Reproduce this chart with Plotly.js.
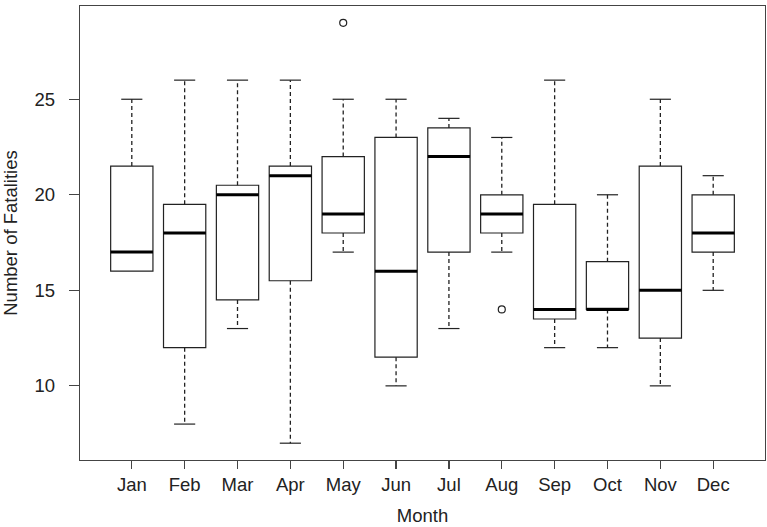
<!DOCTYPE html>
<html>
<head>
<meta charset="utf-8">
<script src="https://cdn.plot.ly/plotly-3.0.1.min.js"></script>
<style>
  html, body { margin: 0; padding: 0; background: #fff; }
  #chart { width: 767px; height: 527px; }
</style>
</head>
<body>
<div id="chart"></div>
<script>
// Monthly fatality box stats
const months = ["Jan", "Feb", "Mar", "Apr", "May", "Jun", "Jul", "Aug", "Sep", "Oct", "Nov", "Dec"];
const lowerWhisker = [16, 8, 13, 7, 17, 10, 13, 17, 12, 12, 10, 15];
const q1 = [16, 12, 14.5, 15.5, 18, 11.5, 17, 18, 13.5, 14, 12.5, 17];
const median = [17, 18, 20, 21, 19, 16, 22, 19, 14, 14, 15, 18];
const q3 = [21.5, 19.5, 20.5, 21.5, 22, 23, 23.5, 20, 19.5, 16.5, 21.5, 20];
const upperWhisker = [25, 26, 26, 26, 25, 25, 24, 23, 26, 20, 25, 21];
const outlierMonth = ["May", "Aug"];
const outlierValue = [29, 14];

const INK = "#222";
const FONT = "Liberation Sans, Arial, Helvetica, sans-serif";
const BOX_HALF = 0.4;
const CAP_HALF = 0.2;

const pos = months.map((m, i) => i + 1);

// segment helper: builds one scatter path, null-separated
function segments(build) {
  const x = [];
  const y = [];
  pos.forEach((p, i) => {
    const s = build(p, i);
    if (!s) return;
    x.push(s[0][0], s[1][0], null);
    y.push(s[0][1], s[1][1], null);
  });
  return { x, y };
}

const whiskers = segments((p, i) => [[p, q3[i]], [p, upperWhisker[i]]]);
const whiskersLow = segments((p, i) =>
  lowerWhisker[i] < q1[i] ? [[p, q1[i]], [p, lowerWhisker[i]]] : null);
const capsUp = segments((p, i) => [[p - CAP_HALF, upperWhisker[i]], [p + CAP_HALF, upperWhisker[i]]]);
const capsLow = segments((p, i) =>
  lowerWhisker[i] < q1[i] ? [[p - CAP_HALF, lowerWhisker[i]], [p + CAP_HALF, lowerWhisker[i]]] : null);
const medians = segments((p, i) => [[p - BOX_HALF, median[i]], [p + BOX_HALF, median[i]]]);

const traces = [
  {
    type: "box",
    x: pos,
    q1: q1,
    median: median,
    q3: q3,
    lowerfence: q1,
    upperfence: q3,
    width: BOX_HALF * 2,
    whiskerwidth: 0,
    fillcolor: "rgba(255,255,255,0)",
    line: { color: INK, width: 1.2 },
    hoverinfo: "skip",
    showlegend: false,
  },
  {
    type: "scatter", mode: "lines",
    x: whiskers.x.concat(whiskersLow.x), y: whiskers.y.concat(whiskersLow.y),
    line: { color: INK, width: 1.3, dash: "4px,3px" },
    hoverinfo: "skip", showlegend: false,
  },
  {
    type: "scatter", mode: "lines",
    x: capsUp.x.concat(capsLow.x), y: capsUp.y.concat(capsLow.y),
    line: { color: INK, width: 1.2 },
    hoverinfo: "skip", showlegend: false,
  },
  {
    type: "scatter", mode: "lines",
    x: medians.x, y: medians.y,
    line: { color: "#000", width: 3 },
    hoverinfo: "skip", showlegend: false,
  },
  {
    type: "scatter", mode: "markers",
    x: outlierMonth.map((m) => months.indexOf(m) + 1), y: outlierValue,
    marker: { symbol: "circle-open", size: 7, color: INK, line: { width: 1.2 } },
    hoverinfo: "skip", showlegend: false,
  },
];

const axisCommon = {
  showgrid: false,
  zeroline: false,
  showline: true,
  mirror: true,
  linecolor: "#444",
  linewidth: 1.2,
  ticks: "outside",
  tickcolor: "#444",
  tickwidth: 1.2,
  tickfont: { family: FONT, size: 18.5, color: INK },
  fixedrange: true,
};

const layout = {
  width: 767,
  height: 527,
  margin: { l: 80, r: 2, t: 6, b: 67 },
  paper_bgcolor: "#fff",
  plot_bgcolor: "#fff",
  font: { family: FONT, size: 18.5, color: INK },
  xaxis: Object.assign({}, axisCommon, {
    range: [0.02, 12.98],
    tickvals: pos,
    ticktext: months,
    ticklen: 8,
    title: { text: "Month", font: { family: FONT, size: 18.5, color: INK }, standoff: 14 },
  }),
  yaxis: Object.assign({}, axisCommon, {
    range: [6.12, 29.88],
    tickvals: [10, 15, 20, 25],
    ticklen: 10,
    ticklabelstandoff: 10,
    title: { text: "Number of Fatalities", font: { family: FONT, size: 18.5, color: INK }, standoff: 12 },
  }),
};

Plotly.newPlot("chart", traces, layout, { displayModeBar: false, staticPlot: true });
</script>
</body>
</html>
